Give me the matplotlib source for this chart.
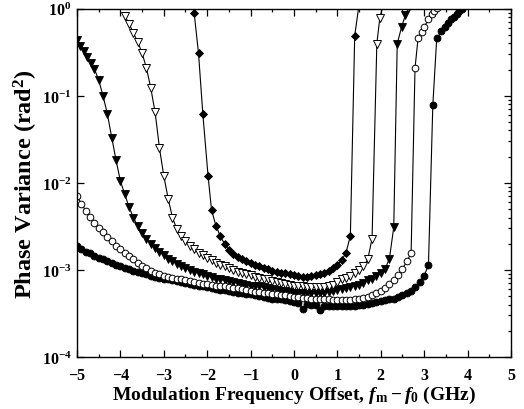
import numpy as np
import matplotlib
matplotlib.use("Agg")
import matplotlib.pyplot as plt
from matplotlib.ticker import LogLocator, MultipleLocator, NullFormatter

plt.rcParams['font.family'] = ['Liberation Serif', 'DejaVu Serif']
plt.rcParams['font.weight'] = 'bold'
plt.rcParams['mathtext.fontset'] = 'custom'
plt.rcParams['mathtext.rm'] = 'Liberation Serif:bold'
plt.rcParams['mathtext.it'] = 'Liberation Serif:italic:bold'
plt.rcParams['mathtext.bf'] = 'Liberation Serif:bold'

# ---------------- data (log10 of phase variance, rad^2) ----------------
# filled circles
circ_f_x = [round(v, 2) for v in np.arange(-5.0, 3.15, 0.1)] + [3.2, 3.29, 3.4, 3.49, 3.56, 3.63, 3.69, 3.75, 3.81, 3.87, 3.93]
circ_f_log = [-2.73, -2.76, -2.79, -2.81, -2.84, -2.86, -2.88, -2.90, -2.92, -2.94,
              -2.96, -2.98, -2.99, -3.01, -3.02, -3.04, -3.05, -3.07, -3.08, -3.09,
              -3.10, -3.11, -3.12, -3.13, -3.14, -3.15, -3.16, -3.17, -3.18, -3.19,
              -3.20, -3.21, -3.22, -3.23, -3.23, -3.24, -3.25, -3.26, -3.27, -3.28,
              -3.28, -3.29, -3.30, -3.31, -3.32, -3.33, -3.34, -3.34, -3.35, -3.36,
              -3.37, -3.38, -3.45, -3.39, -3.40, -3.40, -3.46, -3.41, -3.42, -3.42,
              -3.42, -3.42, -3.42, -3.41, -3.41, -3.40, -3.40, -3.39, -3.38, -3.37,
              -3.36, -3.35, -3.34, -3.33, -3.31, -3.29, -3.27, -3.24, -3.20, -3.14,
              -3.07, -2.94,
              -1.11, -0.34, -0.26, -0.21, -0.16, -0.12, -0.09, -0.06, -0.03, 0.00, 0.03]

# open circles
circ_o_x = [round(v, 2) for v in np.arange(-5.0, 2.75, 0.1)] + [2.79, 2.86, 2.94, 3.0, 3.1, 3.17, 3.23, 3.3]
circ_o_log = [-2.15, -2.24, -2.32, -2.39, -2.46, -2.52, -2.57, -2.62, -2.67, -2.72,
              -2.76, -2.80, -2.84, -2.88, -2.92, -2.95, -2.98, -3.01, -3.03, -3.05,
              -3.07, -3.08, -3.09, -3.10, -3.11, -3.12, -3.13, -3.14, -3.15, -3.16,
              -3.16, -3.17, -3.18, -3.18, -3.19, -3.20, -3.21, -3.21, -3.22, -3.23,
              -3.24, -3.25, -3.25, -3.26, -3.27, -3.28, -3.28, -3.29, -3.29, -3.30,
              -3.31, -3.31, -3.32, -3.32, -3.33, -3.33, -3.34, -3.34, -3.34, -3.35,
              -3.35, -3.35, -3.35, -3.35, -3.34, -3.33, -3.32, -3.31, -3.29, -3.27,
              -3.24, -3.21, -3.16, -3.12, -3.06, -2.99, -2.90, -2.81,
              -0.68, -0.34, -0.27, -0.21, -0.12, -0.06, -0.03, 0.01]

# filled down-triangles
tri_f_x = [-5.0, -4.92, -4.84, -4.76, -4.68, -4.6, -4.5, -4.4, -4.3, -4.2, -4.1, -4.0] + \
          [round(v, 2) for v in np.arange(-3.9, 2.35, 0.1)] + [2.38, 2.48, 2.57, 2.66]
tri_f_log = [-0.36, -0.43, -0.49, -0.55, -0.62, -0.69, -0.82, -1.00, -1.21, -1.48, -1.74, -1.98,
             -2.13, -2.28, -2.40, -2.50, -2.58, -2.65, -2.70, -2.75, -2.79, -2.83,
             -2.87, -2.90, -2.93, -2.96, -2.98, -3.00, -3.02, -3.04, -3.05, -3.07,
             -3.08, -3.10, -3.11, -3.12, -3.13, -3.14, -3.15, -3.16, -3.17, -3.18,
             -3.19, -3.19, -3.20, -3.21, -3.22, -3.23, -3.24, -3.24, -3.25, -3.26,
             -3.26, -3.27, -3.27, -3.27, -3.27, -3.26, -3.26, -3.25, -3.24, -3.23,
             -3.22, -3.21, -3.20, -3.18, -3.17, -3.15, -3.12, -3.10, -3.07, -3.04,
             -2.99, -2.87, -2.51,
             -0.40, -0.21, -0.07, 0.02]

# open down-triangles
tri_o_x = [round(v, 2) for v in np.arange(-3.9, 1.85, 0.1)] + [1.91, 1.98, 2.06]
tri_o_log = [-0.08, -0.17, -0.28, -0.38, -0.51, -0.68, -0.91, -1.19, -1.60, -1.92,
             -2.18, -2.40, -2.53, -2.61, -2.67, -2.72, -2.76, -2.80, -2.83, -2.86,
             -2.89, -2.92, -2.94, -2.96, -2.98, -3.00, -3.02, -3.03, -3.05, -3.06,
             -3.08, -3.09, -3.10, -3.11, -3.13, -3.14, -3.15, -3.16, -3.17, -3.18,
             -3.19, -3.19, -3.20, -3.20, -3.20, -3.20, -3.20, -3.19, -3.17, -3.14,
             -3.11, -3.09, -3.07, -3.04, -3.00, -2.96, -2.88, -2.64,
             -0.40, -0.10, 0.05]

# filled diamonds
dia_x = [-2.3, -2.2, -2.1, -1.98, -1.9, -1.8, -1.7] + [round(v, 2) for v in np.arange(-1.6, 1.45, 0.1)] + [1.5]
dia_log = [-0.05, -0.51, -1.21, -1.92, -2.31, -2.49, -2.61,
           -2.70, -2.77, -2.82, -2.85, -2.88, -2.90, -2.92, -2.94, -2.96, -2.98,
           -2.99, -3.01, -3.02, -3.03, -3.04, -3.05, -3.06, -3.07, -3.08, -3.08,
           -3.07, -3.06, -3.05, -3.03, -3.01, -2.98, -2.94, -2.89, -2.80, -2.61,
           -0.31, 0.05]

x_ticks = [-5, -4, -3, -2, -1, 0, 1, 2, 3, 4, 5]

# ---------------- figure ----------------
fig = plt.figure(figsize=(5.24, 4.10), dpi=100)
ax = fig.add_axes([0.147, 0.127, 0.828, 0.849])

lw = 0.8
ax.plot(circ_f_x, 10.0 ** np.array(circ_f_log), '-', color='black', lw=lw,
        marker='o', ms=5, mfc='black', mec='black', mew=0.6)
ax.plot(tri_f_x, 10.0 ** np.array(tri_f_log), '-', color='black', lw=lw,
        marker='v', ms=6, mfc='black', mec='black', mew=0.6)
ax.plot(circ_o_x, 10.0 ** np.array(circ_o_log), '-', color='black', lw=lw,
        marker='o', ms=4.8, mfc='white', mec='black', mew=0.7)
ax.plot(tri_o_x, 10.0 ** np.array(tri_o_log), '-', color='black', lw=lw,
        marker='v', ms=6, mfc='white', mec='black', mew=0.7)
ax.plot(dia_x, 10.0 ** np.array(dia_log), '-', color='black', lw=lw,
        marker='D', ms=4.2, mfc='black', mec='black', mew=0.6)

ax.set_yscale('log')
ax.set_xlim(-5, 5)
ax.set_ylim(1e-4, 1)
ax.set_xticks(x_ticks)
ax.set_xticklabels([('\u2212%d' % abs(t)) if t < 0 else str(t) for t in x_ticks])
ax.xaxis.set_minor_locator(MultipleLocator(0.5))
ax.yaxis.set_major_locator(LogLocator(base=10, numticks=10))
ax.yaxis.set_minor_locator(LogLocator(base=10, subs=np.arange(2, 10), numticks=20))
ax.yaxis.set_minor_formatter(NullFormatter())

ax.tick_params(which='both', direction='in', top=True, right=True, width=0.9)
ax.tick_params(which='major', length=5)
ax.tick_params(which='minor', length=2.5)
ax.tick_params(axis='y', which='minor', left=False, right=True)
ax.tick_params(axis='x', which='major', labelsize=11.5, pad=7)
ax.tick_params(axis='y', which='major', labelsize=11.5, pad=4)
for lab in ax.get_xticklabels() + ax.get_yticklabels():
    lab.set_fontweight('bold')
for sp in ax.spines.values():
    sp.set_linewidth(1.0)

ax.set_xlabel('Modulation Frequency Offset, $f_{\\mathrm{m}} - f_0$ (GHz)',
              fontsize=14, fontweight='bold', labelpad=1)
ax.set_ylabel('Phase Variance (rad$^2$)', fontsize=17.5, fontweight='bold', labelpad=1)

fig.savefig('out.png', dpi=100)
